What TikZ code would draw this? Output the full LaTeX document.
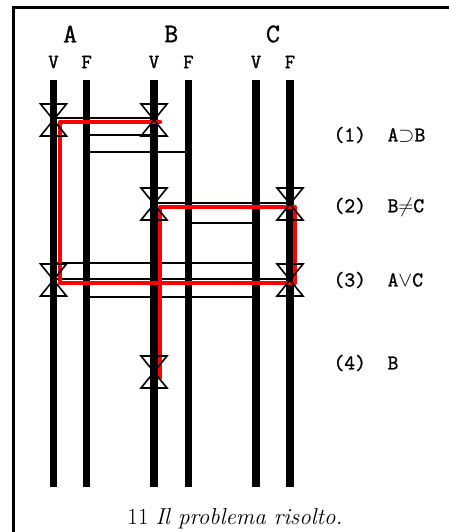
\documentclass[tikz,border=0pt]{standalone}
\usepackage{fontspec}
\newfontfamily\valfont[FakeBold=1.5]{Latin Modern Mono}
\newfontfamily\headfont[FakeBold=1.2]{Latin Modern Mono}
\usetikzlibrary{calc}
\tikzset{hglass/.pic={\draw[line width=1.6pt, line join=miter] (-13,-16) -- (13,-16) -- (-13,16) -- (13,16) -- cycle;}}

\begin{document}
\begin{tikzpicture}[x=1pt, y=-1pt,
  bar/.style={line width=7.5pt},
  link/.style={line width=1.3pt},
  solve/.style={draw=red, line width=4.5pt, line join=round, line cap=round},
  head/.style={font=\headfont\fontsize{27}{27}\selectfont},
  val/.style={font=\valfont\fontsize{20}{20}\selectfont},
  clause/.style={anchor=west, font=\headfont\fontsize{21}{21}\selectfont}]
\useasboundingbox (0,0) rectangle (449,532);
\draw[line width=3pt] (13,532) -- (13,8) -- (449,8);
\foreach \c/\x in {AV/53.5, AF/86.7, BV/154, BF/188.5, CV/256, CF/290} {
  \coordinate (\c) at (\x,80);
  \draw[bar] (\c) -- ++(0,407);
}
\node[head] (hA) at ($(AV)!0.5!(AF)+(0,-46)$) {A};
\node[head] (hB) at ($(BV)!0.5!(BF)+(0,-46)$) {B};
\node[head] (hC) at ($(CV)!0.5!(CF)+(0,-46)$) {C};
\foreach \c/\t in {AV/V, AF/F, BV/V, BF/F, CV/V, CF/F}
  \node[val] (t\c) at ($(\c)+(0,-18)$) {\t};
\draw[link] (AV |- 0,118) -- (BV |- 0,118);
\draw[link] (AF |- 0,135) -- (BV |- 0,135);
\draw[link] (AF |- 0,152) -- (BF |- 0,152);
\draw[link] (BV |- 0,203) -- (CF |- 0,203);
\draw[link] (BF |- 0,223) -- (CV |- 0,223);
\draw[link] (AV |- 0,263) -- (CV |- 0,263);
\draw[link] (AV |- 0,279) -- (CF |- 0,279);
\draw[link] (AF |- 0,297) -- (CV |- 0,297);
\draw[solve] (160,122) -- (60,122) -- (60,283) -- (295,283) -- (295,207) -- (160,207) -- (160,378);
\foreach \c/\y in {AV/120, BV/120, BV/204, CF/204, AV/280, CF/280, BV/372}
  \pic at (\c |- 0,\y) {hglass};
\node[clause] (k1) at (330,135) {(1)~~A$\supset$B};
\node[clause] (k2) at (330,207) {(2)~~B$\neq$C};
\node[clause] (k3) at (330,280) {(3)~~A$\vee$C};
\node[clause] (k4) at (330,363) {(4)~~B};
\node (cap) at (235,519) {\fontsize{23}{28}\selectfont 11 \textit{Il problema risolto.}};
\end{tikzpicture}
\end{document}
